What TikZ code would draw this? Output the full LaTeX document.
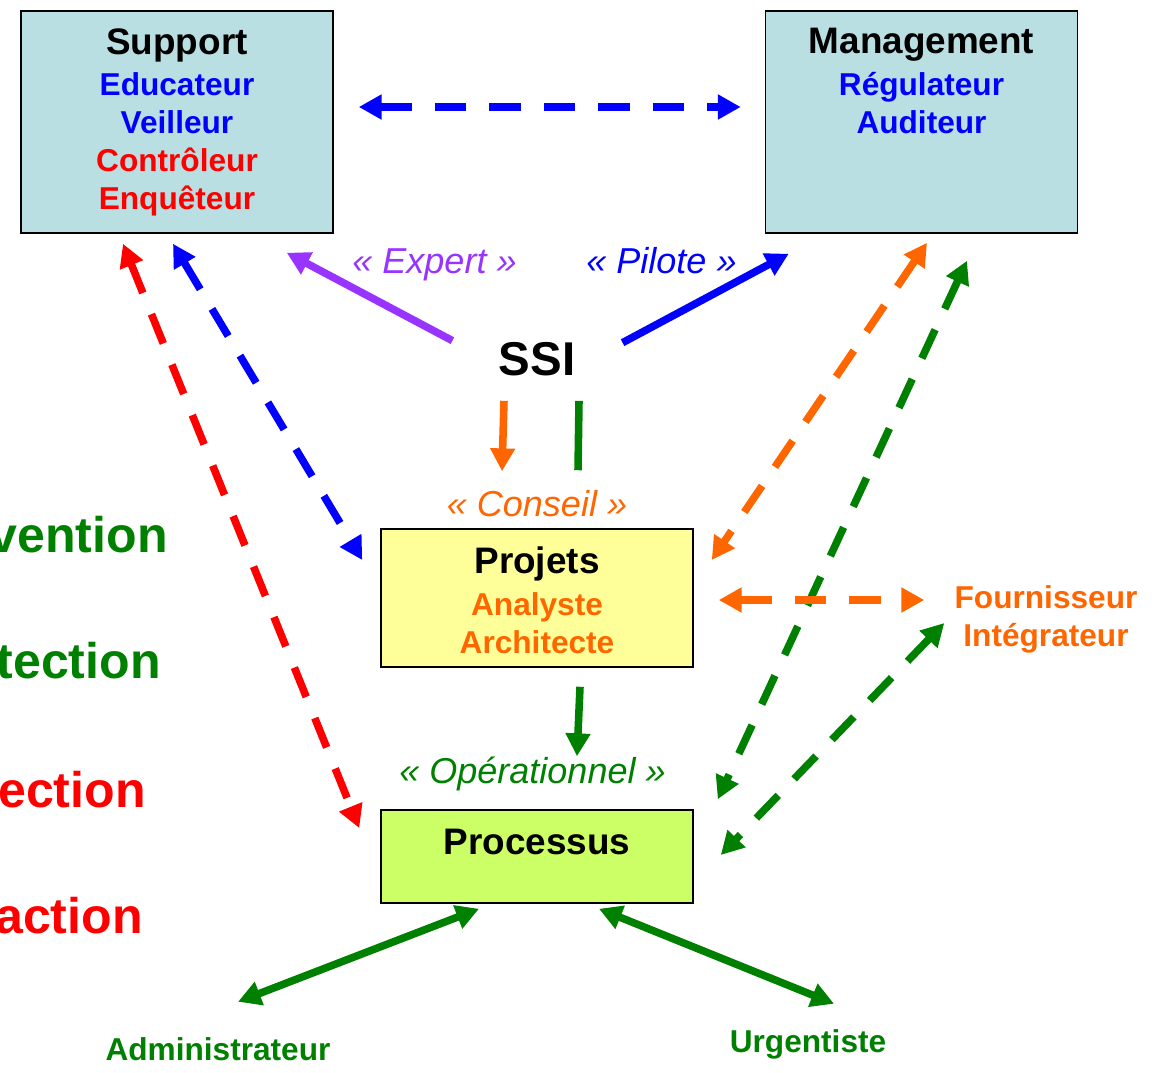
\documentclass[tikz,border=0pt]{standalone}
\usepackage{fontspec}
\setmainfont{Liberation Sans}
\usetikzlibrary{arrows.meta,calc}
\definecolor{boxblue}{RGB}{185,223,226}
\definecolor{projyellow}{RGB}{255,255,153}
\definecolor{proclime}{RGB}{204,255,102}
\definecolor{ssigreen}{RGB}{0,128,0}
\definecolor{ssiorange}{RGB}{255,102,0}
\definecolor{ssipurple}{RGB}{153,51,255}
\begin{document}
\begin{tikzpicture}
[x=0.02cm,y=-0.02cm,
  boxdecorate/.style={shape=rectangle,draw=black,line width=0.9pt,inner sep=0pt,minimum width=6.24cm},%
  textdecorate/.style={align=center,inner sep=0pt,font=\fontsize{18}{21.5}\selectfont\bfseries},%
  quotedecorate/.style={inner sep=0pt,anchor=base,font=\fontsize{20.5}{24}\selectfont\itshape},%
  sidedecorate/.style={inner sep=0pt,anchor=base east,font=\fontsize{28.5}{34}\selectfont\bfseries},%
  arrowdecorate/.style={-{Triangle[length=13pt,width=13.5pt]},line width=4.3pt},%
  twowaydecorate/.style={{Triangle[length=13pt,width=13.5pt]}-{Triangle[length=13pt,width=13.5pt]},line width=4.3pt},%
  dashdecorate/.style={twowaydecorate,dash pattern=on 18pt off 13pt}]
\useasboundingbox (0,0) rectangle (1158,1072);
\clip (0,0) rectangle (1158,1072);
%% boxes
\node (support) at (177,122) [boxdecorate,fill=boxblue,minimum height=4.44cm] {};
\node (mgmt) at (921.5,122) [boxdecorate,fill=boxblue,minimum height=4.44cm] {};
\node (projets) at (537,598) [boxdecorate,fill=projyellow,minimum height=2.76cm] {};
\node (processus) at (537,856.5) [boxdecorate,fill=proclime,minimum height=1.86cm] {};
%% texts of the boxes
\node (supporttext) at (177,28) [textdecorate,anchor=north] {{\fontsize{21}{25}\selectfont Support}\\[2.3pt]
  \textcolor{blue}{Educateur}\\ \textcolor{blue}{Veilleur}\\
  \textcolor{red}{Contrôleur}\\ \textcolor{red}{Enquêteur}};
\node (mgmttext) at (921.5,28) [textdecorate,anchor=north] {{\fontsize{21}{25}\selectfont Management}\\[2.3pt]
  \textcolor{blue}{Régulateur}\\ \textcolor{blue}{Auditeur}};
\node (projetstext) at (537,546.5) [textdecorate,anchor=north] {{\fontsize{21}{25}\selectfont Projets}\\[2.3pt]
  \textcolor{ssiorange}{Analyste}\\ \textcolor{ssiorange}{Architecte}};
\node (processustext) at (537,854) [textdecorate,anchor=base,font=\fontsize{21}{25}\selectfont\bfseries] {Processus};
%% free labels
\node (ssi) at (537,375) [inner sep=0pt,anchor=base,font=\fontsize{27}{32}\selectfont\bfseries] {SSI};
\node (expert) at (434.5,273) [quotedecorate,text=ssipurple] {«~Expert~»};
\node (pilote) at (661.5,273) [quotedecorate,text=blue] {«~Pilote~»};
\node (conseil) at (537,516) [quotedecorate,text=ssiorange] {«~Conseil~»};
\node (operationnel) at (532.5,783) [quotedecorate,text=ssigreen] {«~Opérationnel~»};
\node (fourn) at (1046,585) [textdecorate,anchor=north,text=ssiorange] {Fournisseur\\ Intégrateur};
\node (admin) at (218,1060) [textdecorate,anchor=base,text=ssigreen] {Administrateur};
\node (urg) at (808,1052) [textdecorate,anchor=base,text=ssigreen] {Urgentiste};
\foreach \nodename/\word/\colour/\x/\y in {prev/vention/ssigreen/168/552,
  prot/tection/ssigreen/161/678, dete/ection/red/146/807, reac/action/red/143/933}
{
  \node (\nodename) at (\x,\y) [sidedecorate,text=\colour] {\word};
}
%% solid arrows
\draw[arrowdecorate,ssipurple] ($(ssi.west)+(-46,-18)$) -- ($(support.south east)+(-47,19)$);
\draw[arrowdecorate,blue] ($(ssi.east)+(47,-16)$) -- ($(mgmt.south west)+(24,20)$);
\draw[arrowdecorate,ssiorange] ($(ssi.south)+(-33,25)$) -- ($(projets.north)+(-35,-57)$);
\draw[line width=4.3pt,ssigreen] ($(ssi.south)+(42,25)$) -- ($(projets.north)+(41,-58)$);
\draw[arrowdecorate,ssigreen] ($(projets.south)+(43,19)$) -- ($(processus.north)+(40,-53)$);
\draw[twowaydecorate,ssigreen] ($(processus.south)+(-58,5)$) -- ($(admin.north)+(20,-35)$);
\draw[twowaydecorate,ssigreen] ($(processus.south)+(62,5)$) -- ($(urg.north)+(26,-25)$);
%% dashed arrows
\draw[dashdecorate,blue] ($(support.east)+(25,-15)$) -- ($(mgmt.west)+(-24,-15)$);
\draw[dashdecorate,red] ($(support.south)+(-54,10)$) -- ($(processus.west)+(-21,-28.5)$);
\draw[dashdecorate,blue] ($(support.south)+(-4,10)$) -- ($(projets.west)+(-18,-38)$);
\draw[dashdecorate,ssiorange] ($(mgmt.south)+(5.5,9)$) -- ($(projets.east)+(18,-38)$);
\draw[dashdecorate,ssigreen] ($(mgmt.south)+(45.5,27)$) -- ($(processus.north east)+(24,-10)$);
\draw[dashdecorate,ssiorange] ($(projets.east)+(25,2)$) -- ($(fourn.north west)+(-30,15)$);
\draw[dashdecorate,ssigreen] ($(fourn.north west)+(-10,38)$) -- ($(processus.east)+(27,-1.5)$);
\end{tikzpicture}
\end{document}
